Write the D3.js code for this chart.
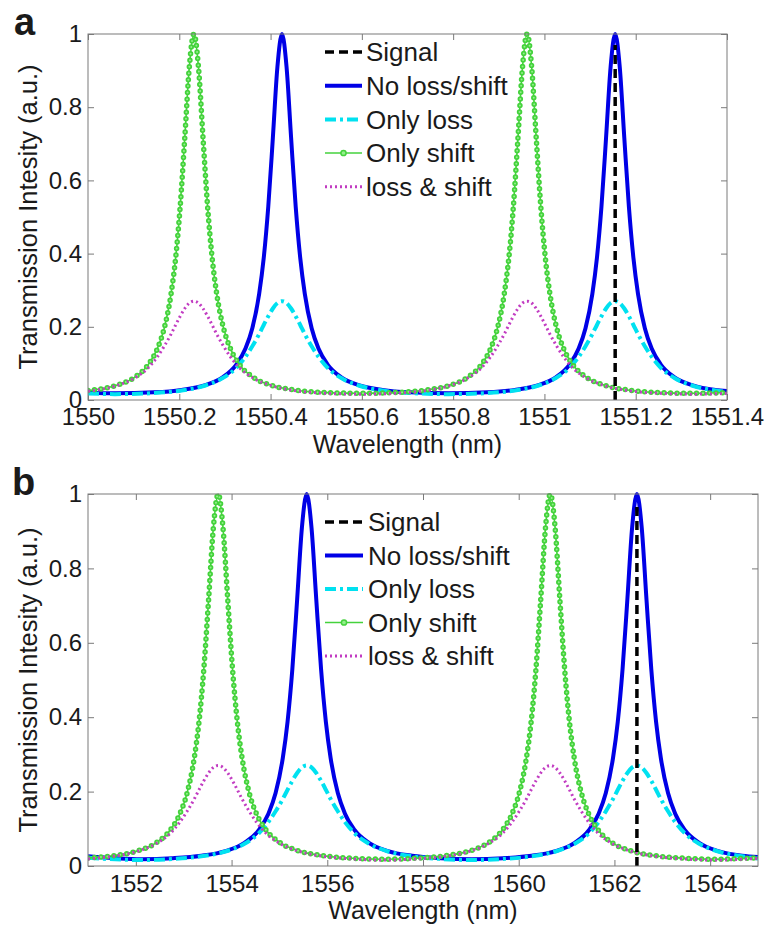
<!DOCTYPE html>
<html><head><meta charset="utf-8">
<script src="https://cdn.jsdelivr.net/npm/d3@7"></script>
<style>
body{margin:0;background:#fff}
svg{display:block}
text{font-family:"Liberation Sans",Arial,sans-serif;fill:#1a1a1a}
</style>
</head><body>
<svg id="c" width="769" height="926"></svg>
<script>
// ---------- Panel a data ----------
const aXTicks = [1550, 1550.2, 1550.4, 1550.6, 1550.8, 1551, 1551.2, 1551.4];
const aXTickLabels = ["1550", "1550.2", "1550.4", "1550.6", "1550.8", "1551", "1551.2", "1551.4"];
const yTicks = [0, 0.2, 0.4, 0.6, 0.8, 1];
const yTickLabels = ["0", "0.2", "0.4", "0.6", "0.8", "1"];
const seriesNames = ["Signal", "No loss/shift", "Only loss", "Only shift", "loss & shift"];

const aWaveNoShift = [1550.000,1550.060,
 1550.145,1550.205,1550.255,1550.295,1550.325,1550.345,1550.360,1550.375,1550.385,1550.395,1550.405,1550.415,1550.425,
 1550.435,1550.445,1550.455,1550.465,1550.475,1550.490,1550.505,1550.525,1550.555,1550.595,1550.645,1550.705,
 1550.790,
 1550.875,1550.935,1550.985,1551.025,1551.055,1551.075,1551.090,1551.105,1551.115,1551.125,1551.135,1551.145,1551.155,
 1551.165,1551.175,1551.185,1551.195,1551.205,1551.220,1551.235,1551.255,1551.285,1551.325,1551.375,
 1551.400];
const aNoLoss = [0.0201,0.0183,
 0.0209,0.0275,0.0400,0.0620,0.0967,0.1405,0.196,0.290,0.388,0.529,0.716,0.910,1,
 0.910,0.716,0.529,0.388,0.290,0.196,0.1405,0.0967,0.0620,0.0400,0.0275,0.0209,
 0.0183,
 0.0209,0.0275,0.0400,0.0620,0.0967,0.1405,0.196,0.290,0.388,0.529,0.716,0.910,1,
 0.910,0.716,0.529,0.388,0.290,0.196,0.1405,0.0967,0.0620,0.0400,0.0275,
 0.0245];
const aOnlyLoss = [0.018,0.016,
 0.019,0.026,0.039,0.060,0.088,0.118,0.147,0.180,0.205,0.229,0.250,0.265,0.27,
 0.265,0.250,0.229,0.205,0.180,0.147,0.118,0.088,0.060,0.039,0.026,0.019,
 0.016,
 0.019,0.026,0.039,0.060,0.088,0.118,0.147,0.180,0.205,0.229,0.250,0.265,0.27,
 0.265,0.250,0.229,0.205,0.180,0.147,0.118,0.088,0.060,0.039,0.026,
 0.022];

const aWaveShift = [1550.000,
 1550.012,1550.062,1550.102,1550.132,1550.152,1550.167,1550.182,1550.192,1550.202,1550.212,1550.222,1550.232,
 1550.242,1550.252,1550.262,1550.272,1550.282,1550.297,1550.312,1550.332,1550.362,1550.402,1550.452,1550.512,
 1550.597,
 1550.682,1550.742,1550.792,1550.832,1550.862,1550.882,1550.897,1550.912,1550.922,1550.932,1550.942,1550.952,1550.962,
 1550.972,1550.982,1550.992,1551.002,1551.012,1551.027,1551.042,1551.062,1551.092,1551.132,1551.182,1551.242,
 1551.327,1551.400];
const aOnlyShift = [0.0262,
 0.0275,0.0400,0.0620,0.0967,0.1405,0.196,0.290,0.388,0.529,0.716,0.910,1,
 0.910,0.716,0.529,0.388,0.290,0.196,0.1405,0.0967,0.0620,0.0400,0.0275,0.0209,
 0.0183,
 0.0209,0.0275,0.0400,0.0620,0.0967,0.1405,0.196,0.290,0.388,0.529,0.716,0.910,1,
 0.910,0.716,0.529,0.388,0.290,0.196,0.1405,0.0967,0.0620,0.0400,0.0275,0.0209,
 0.0183,0.0205];
const aLossShift = [0.024,
 0.026,0.039,0.060,0.088,0.118,0.147,0.180,0.205,0.229,0.250,0.265,0.27,
 0.265,0.250,0.229,0.205,0.180,0.147,0.118,0.088,0.060,0.039,0.026,0.019,
 0.016,
 0.019,0.026,0.039,0.060,0.088,0.118,0.147,0.180,0.205,0.229,0.250,0.265,0.27,
 0.265,0.250,0.229,0.205,0.180,0.147,0.118,0.088,0.060,0.039,0.026,0.019,
 0.016,0.018];
const aSignalWave = 1551.155;
const aSignalRange = [0, 0.97];

// ---------- Panel b data ----------
const bXTicks = [1552, 1554, 1556, 1558, 1560, 1562, 1564];
const bXTickLabels = ["1552", "1554", "1556", "1558", "1560", "1562", "1564"];

const bWaveNoShift = [1551.00,1552.12,
 1552.77,1553.37,1553.87,1554.27,1554.57,1554.77,1554.92,1555.07,1555.17,1555.27,1555.37,1555.47,1555.57,
 1555.67,1555.77,1555.87,1555.97,1556.07,1556.22,1556.37,1556.57,1556.87,1557.27,1557.77,1558.37,
 1559.02,
 1559.67,1560.27,1560.77,1561.17,1561.47,1561.67,1561.82,1561.97,1562.07,1562.17,1562.27,1562.37,1562.47,
 1562.57,1562.67,1562.77,1562.87,1562.97,1563.12,1563.27,1563.47,1563.77,1564.17,1564.67,
 1565.00];
const bNoLoss = [0.0263,0.0183,
 0.0209,0.0275,0.0400,0.0620,0.0967,0.1405,0.196,0.290,0.388,0.529,0.716,0.910,1,
 0.910,0.716,0.529,0.388,0.290,0.196,0.1405,0.0967,0.0620,0.0400,0.0275,0.0209,
 0.0183,
 0.0209,0.0275,0.0400,0.0620,0.0967,0.1405,0.196,0.290,0.388,0.529,0.716,0.910,1,
 0.910,0.716,0.529,0.388,0.290,0.196,0.1405,0.0967,0.0620,0.0400,0.0275,
 0.024];
const bOnlyLoss = [0.022,0.016,
 0.019,0.026,0.039,0.060,0.088,0.118,0.147,0.180,0.205,0.229,0.250,0.265,0.27,
 0.265,0.250,0.229,0.205,0.180,0.147,0.118,0.088,0.060,0.039,0.026,0.019,
 0.016,
 0.019,0.026,0.039,0.060,0.088,0.118,0.147,0.180,0.205,0.229,0.250,0.265,0.27,
 0.265,0.250,0.229,0.205,0.180,0.147,0.118,0.088,0.060,0.039,0.026,
 0.020];

const bWaveShift = [1551.00,
 1551.52,1552.02,1552.42,1552.72,1552.92,1553.07,1553.22,1553.32,1553.42,1553.52,1553.62,1553.72,
 1553.82,1553.92,1554.02,1554.12,1554.22,1554.37,1554.52,1554.72,1555.02,1555.42,1555.92,1556.52,
 1557.19,
 1557.86,1558.46,1558.96,1559.36,1559.66,1559.86,1560.01,1560.16,1560.26,1560.36,1560.46,1560.56,1560.66,
 1560.76,1560.86,1560.96,1561.06,1561.16,1561.31,1561.46,1561.66,1561.96,1562.36,1562.86,1563.46,
 1564.13,1564.80,1565.00];
const bOnlyShift = [0.0215,
 0.0275,0.0400,0.0620,0.0967,0.1405,0.196,0.290,0.388,0.529,0.716,0.910,1,
 0.910,0.716,0.529,0.388,0.290,0.196,0.1405,0.0967,0.0620,0.0400,0.0275,0.0209,
 0.0183,
 0.0209,0.0275,0.0400,0.0620,0.0967,0.1405,0.196,0.290,0.388,0.529,0.716,0.910,1,
 0.910,0.716,0.529,0.388,0.290,0.196,0.1405,0.0967,0.0620,0.0400,0.0275,0.0209,
 0.0183,0.0209,0.0225];
const bLossShift = [0.019,
 0.026,0.039,0.060,0.088,0.118,0.147,0.180,0.205,0.229,0.250,0.265,0.27,
 0.265,0.250,0.229,0.205,0.180,0.147,0.118,0.088,0.060,0.039,0.026,0.019,
 0.016,
 0.019,0.026,0.039,0.060,0.088,0.118,0.147,0.180,0.205,0.229,0.250,0.265,0.27,
 0.265,0.250,0.229,0.205,0.180,0.147,0.118,0.088,0.060,0.039,0.026,0.019,
 0.016,0.019,0.020];
const bSignalWave = 1562.47;
const bSignalRange = [0, 0.97];

// ---------- styles ----------
const C_BLUE = "#0000e6", C_CYAN = "#00e1f0", C_GREEN = "#44d23c", C_GREEN_IN = "#94ee8c", C_MAG = "#c23cc2";
const svg = d3.select("#c");
const AX = "#7a7a7a";

function panel(o) {
  const g = svg.append("g");
  const x = d3.scaleLinear().domain(o.xDomain).range([o.left, o.right]);
  const y = d3.scaleLinear().domain([0, 1]).range([o.bottom, o.top]);
  const clipId = "clip" + o.id;
  svg.append("defs").append("clipPath").attr("id", clipId)
    .append("rect").attr("x", o.left).attr("y", o.top - 3)
    .attr("width", o.right - o.left).attr("height", o.bottom - o.top + 3);

  // axes
  const fmtX = (d) => o.xLabels[o.xTicks.indexOf(d)];
  const fmtY = (d) => yTickLabels[yTicks.indexOf(d)];
  const ax = g.append("g").attr("transform", `translate(0,${o.bottom})`)
    .call(d3.axisBottom(x).tickValues(o.xTicks).tickFormat(fmtX).tickSizeInner(-6).tickSizeOuter(0).tickPadding(o.xPad));
  const axT = g.append("g").attr("transform", `translate(0,${o.top})`)
    .call(d3.axisTop(x).tickValues(o.xTicks).tickFormat("").tickSizeInner(-6).tickSizeOuter(0));
  const ay = g.append("g").attr("transform", `translate(${o.left},0)`)
    .call(d3.axisLeft(y).tickValues(yTicks).tickFormat(fmtY).tickSizeInner(-6).tickSizeOuter(0).tickPadding(6));
  const ayR = g.append("g").attr("transform", `translate(${o.right},0)`)
    .call(d3.axisRight(y).tickValues(yTicks).tickFormat("").tickSizeInner(-6).tickSizeOuter(0));
  [ax, axT, ay, ayR].forEach(a => {
    a.select(".domain").remove();
    a.selectAll("line").attr("stroke", AX).attr("stroke-width", 1);
    a.selectAll("text").attr("font-size", 24).attr("fill", "#1a1a1a")
      .attr("font-family", '"Liberation Sans",Arial,sans-serif');
  });

  const line = d3.line().x(d => x(d[0])).y(d => y(d[1])).curve(d3.curveMonotoneX);
  const plot = g.append("g").attr("clip-path", `url(#${clipId})`);
  const zip = (a, b) => a.map((v, i) => [v, b[i]]);

  plot.append("path").attr("d", line(zip(o.waveA, o.noLoss)))
    .attr("fill", "none").attr("stroke", C_BLUE).attr("stroke-width", 4).attr("stroke-linejoin", "round");
  plot.append("path").attr("d", line(zip(o.waveA, o.onlyLoss)))
    .attr("fill", "none").attr("stroke", C_CYAN).attr("stroke-width", 4).attr("stroke-dasharray", "11,4,3,4");
  const gp = line(zip(o.waveB, o.onlyShift));
  plot.append("path").attr("d", gp).attr("fill", "none").attr("stroke", C_GREEN).attr("stroke-width", 1.6);
  plot.append("path").attr("d", gp).attr("fill", "none").attr("stroke", C_GREEN).attr("stroke-width", 5.5)
    .attr("stroke-linecap", "round").attr("stroke-dasharray", "0,6.5");
  plot.append("path").attr("d", gp).attr("fill", "none").attr("stroke", C_GREEN_IN).attr("stroke-width", 2)
    .attr("stroke-linecap", "round").attr("stroke-dasharray", "0,6.5");
  plot.append("path").attr("d", line(zip(o.waveB, o.lossShift)))
    .attr("fill", "none").attr("stroke", C_MAG).attr("stroke-width", 3).attr("stroke-dasharray", "2,3");
  plot.append("line").attr("x1", x(o.signal)).attr("x2", x(o.signal))
    .attr("y1", y(o.signalRange[0])).attr("y2", y(o.signalRange[1]))
    .attr("stroke", "#000").attr("stroke-width", 3.5).attr("stroke-dasharray", "9,5");

  // box
  g.append("rect").attr("x", o.left).attr("y", o.top).attr("width", o.right - o.left).attr("height", o.bottom - o.top)
    .attr("fill", "none").attr("stroke", AX).attr("stroke-width", 1);

  // labels
  g.append("text").attr("x", (o.left + o.right) / 2).attr("y", o.xLabelY).attr("text-anchor", "middle")
    .attr("font-size", 25).text("Wavelength (nm)");
  g.append("text").attr("transform", `translate(37,${(o.top + o.bottom) / 2}) rotate(-90)`)
    .attr("text-anchor", "middle").attr("font-size", 25.5).text("Transmission Intesity (a.u.)");
  g.append("text").attr("x", o.letterX).attr("y", o.letterY).attr("font-size", 38).attr("font-weight", "bold")
    .attr("fill", "#000").text(o.letter);

  // legend
  const lg = g.append("g");
  o.legY.forEach((ly, i) => {
    const x1 = o.legX0, x2 = o.legX1;
    if (i === 0) lg.append("line").attr("x1", x1).attr("x2", x2).attr("y1", ly).attr("y2", ly)
      .attr("stroke", "#000").attr("stroke-width", 3.5).attr("stroke-dasharray", "9,5");
    if (i === 1) lg.append("line").attr("x1", x1).attr("x2", x2).attr("y1", ly).attr("y2", ly)
      .attr("stroke", C_BLUE).attr("stroke-width", 4);
    if (i === 2) lg.append("line").attr("x1", x1).attr("x2", x2).attr("y1", ly).attr("y2", ly)
      .attr("stroke", C_CYAN).attr("stroke-width", 4).attr("stroke-dasharray", "11,4,3,4");
    if (i === 3) {
      lg.append("line").attr("x1", x1).attr("x2", x2).attr("y1", ly).attr("y2", ly)
        .attr("stroke", C_GREEN).attr("stroke-width", 1.6);
      lg.append("circle").attr("cx", (x1 + x2) / 2).attr("cy", ly).attr("r", 2.6)
        .attr("fill", C_GREEN_IN).attr("stroke", C_GREEN).attr("stroke-width", 1.5);
    }
    if (i === 4) lg.append("line").attr("x1", x1).attr("x2", x2).attr("y1", ly).attr("y2", ly)
      .attr("stroke", C_MAG).attr("stroke-width", 3).attr("stroke-dasharray", "2,3");
    lg.append("text").attr("x", o.legTextX).attr("y", ly).attr("dy", "0.35em").attr("font-size", 26)
      .text(seriesNames[i]);
  });
}

panel({
  id: "a", left: 88, right: 727, top: 34, bottom: 400,
  xDomain: [1550, 1551.4], xTicks: aXTicks, xLabels: aXTickLabels, xPad: 8,
  waveA: aWaveNoShift, noLoss: aNoLoss, onlyLoss: aOnlyLoss,
  waveB: aWaveShift, onlyShift: aOnlyShift, lossShift: aLossShift,
  signal: aSignalWave, signalRange: aSignalRange,
  xLabelY: 453, letter: "a", letterX: 14, letterY: 35,
  legY: [52, 85.7, 119.4, 153, 186.8], legX0: 325, legX1: 362, legTextX: 366
});
panel({
  id: "b", left: 88, right: 758, top: 494, bottom: 866,
  xDomain: [1551, 1565], xTicks: bXTicks, xLabels: bXTickLabels, xPad: 9,
  waveA: bWaveNoShift, noLoss: bNoLoss, onlyLoss: bOnlyLoss,
  waveB: bWaveShift, onlyShift: bOnlyShift, lossShift: bLossShift,
  signal: bSignalWave, signalRange: bSignalRange,
  xLabelY: 919, letter: "b", letterX: 12, letterY: 495,
  legY: [522, 555.5, 589, 622.5, 656], legX0: 325, legX1: 363, legTextX: 368
});
</script>
</body></html>
